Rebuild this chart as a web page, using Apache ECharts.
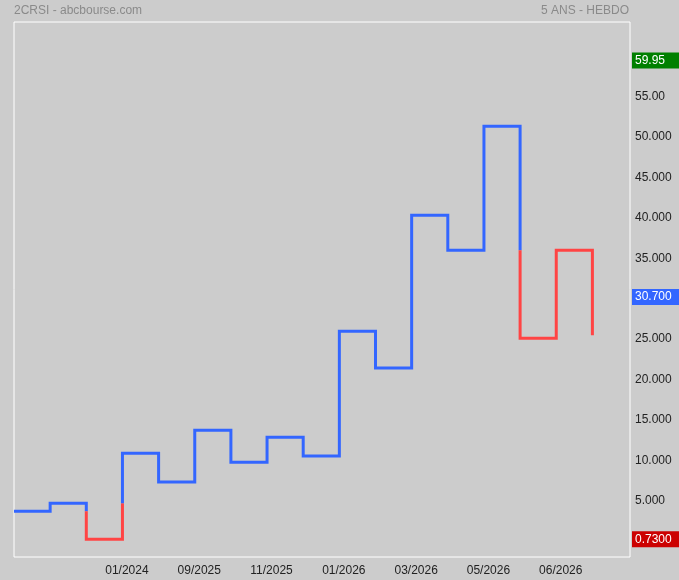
<!DOCTYPE html>
<html>
<head>
<meta charset="utf-8">
<script src="https://cdn.jsdelivr.net/npm/echarts@6/dist/echarts.min.js"></script>
<style>
  html, body { margin: 0; padding: 0; background: #cccccc; }
  #chart { width: 679px; height: 580px; }
</style>
</head>
<body>
<div id="chart"></div>
<script>
// Kagi reversal levels (horizontal segments), last value = current end of line
const levels = [4.19, 5.18, 0.73, 11.37, 7.82, 14.21, 10.25, 13.35, 11.04, 26.46, 21.92, 40.80, 36.47, 51.81, 25.59, 36.47, 25.96];
// date labels and the reversal index they sit under
const dateLabels = ['01/2024', '09/2025', '11/2025', '01/2026', '03/2026', '05/2026', '06/2026'];
const datePositions = [3, 5, 7, 9, 11, 13, 15];
// y-axis tick values
const yTicks = [5, 10, 15, 20, 25, 35, 40, 45, 50, 55];
// highlighted values on the right axis
const markValues = [59.95, 30.70, 0.73];
const markTexts = ['59.95', '30.700', '0.7300'];
const markStyles = ['hi', 'last', 'lo'];

const BLUE = '#3366ff';
const RED = '#ff4444';
const FONT = 'Liberation Sans, Arial, sans-serif';

// build colored runs following Kagi yang/yin rules
const runs = [];
let color = BLUE;
let cur = [[0, levels[0]]];
let lastShoulder = null, lastWaist = null;
for (let i = 0; i < levels.length - 1; i++) {
  const a = levels[i], b = levels[i + 1];
  const x = i + 1;
  cur.push([x, a]);
  if (b > a) {
    lastWaist = a;
    if (color === RED && lastShoulder !== null && b > lastShoulder) {
      cur.push([x, lastShoulder]);
      runs.push({ color, data: cur });
      color = BLUE;
      cur = [[x, lastShoulder]];
    }
  } else {
    lastShoulder = a;
    if (color === BLUE && lastWaist !== null && b < lastWaist) {
      cur.push([x, lastWaist]);
      runs.push({ color, data: cur });
      color = RED;
      cur = [[x, lastWaist]];
    }
  }
  cur.push([x, b]);
}
runs.push({ color, data: cur });

const series = runs.map(r => ({
  type: 'line',
  data: r.data,
  showSymbol: false,
  symbol: 'none',
  silent: true,
  yAxisIndex: 0,
  lineStyle: { color: r.color, width: 3, join: 'miter', cap: 'butt' },
  z: 3
}));

const boxStyle = bg => ({
  color: '#ffffff', backgroundColor: bg, fontSize: 12, fontFamily: FONT,
  padding: [2, 3, 2, 3], lineHeight: 12, height: 12, width: 41, align: 'left'
});

const yMin = -1.46, yMax = 64.71;

const chart = echarts.init(document.getElementById('chart'), null, { renderer: 'canvas' });
chart.setOption({
  animation: false,
  backgroundColor: '#cccccc',
  textStyle: { fontFamily: FONT },
  title: [
    { text: '2CRSI - abcbourse.com', left: 9, top: 0,
      textStyle: { fontSize: 12, fontWeight: 'normal', color: '#8a8a8a', fontFamily: FONT } },
    { text: '5 ANS - HEBDO', right: 45, top: 0,
      textStyle: { fontSize: 12, fontWeight: 'normal', color: '#8a8a8a', fontFamily: FONT } }
  ],
  grid: {
    left: 14, right: 49, top: 22, bottom: 23,
    show: true, borderColor: '#ffffff', borderWidth: 1, backgroundColor: 'transparent',
    containLabel: false, outerBoundsMode: 'none'
  },
  xAxis: {
    type: 'value', min: 0, max: 17.04,
    axisLine: { show: false }, axisTick: { show: false }, splitLine: { show: false },
    axisLabel: {
      customValues: datePositions,
      formatter: v => { const k = datePositions.indexOf(Math.round(v)); return k >= 0 ? dateLabels[k] : ''; },
      color: '#222222', fontSize: 12, margin: 8, padding: [0, 0, 0, 9]
    }
  },
  yAxis: [{
    type: 'value', position: 'right', min: yMin, max: yMax,
    axisLine: { show: false }, axisTick: { show: false }, splitLine: { show: false },
    axisLabel: {
      customValues: yTicks,
      formatter: v => (v === 55 ? '55.00' : v.toFixed(3)),
      color: '#222222', fontSize: 12, margin: 5, verticalAlign: 'bottom', lineHeight: 8
    }
  }, {
    type: 'value', position: 'right', offset: 0, min: yMin, max: yMax,
    axisLine: { show: false }, axisTick: { show: false }, splitLine: { show: false },
    axisLabel: {
      customValues: markValues,
      formatter: v => { const k = markValues.findIndex(m => Math.abs(m - v) < 1e-6); return k >= 0 ? '{' + markStyles[k] + '|' + markTexts[k] + '}' : ''; },
      margin: 2, verticalAlign: 'middle',
      rich: { hi: boxStyle('#008000'), last: boxStyle('#3366ff'), lo: boxStyle('#cc0000') }
    }
  }],
  series
});
</script>
</body>
</html>
